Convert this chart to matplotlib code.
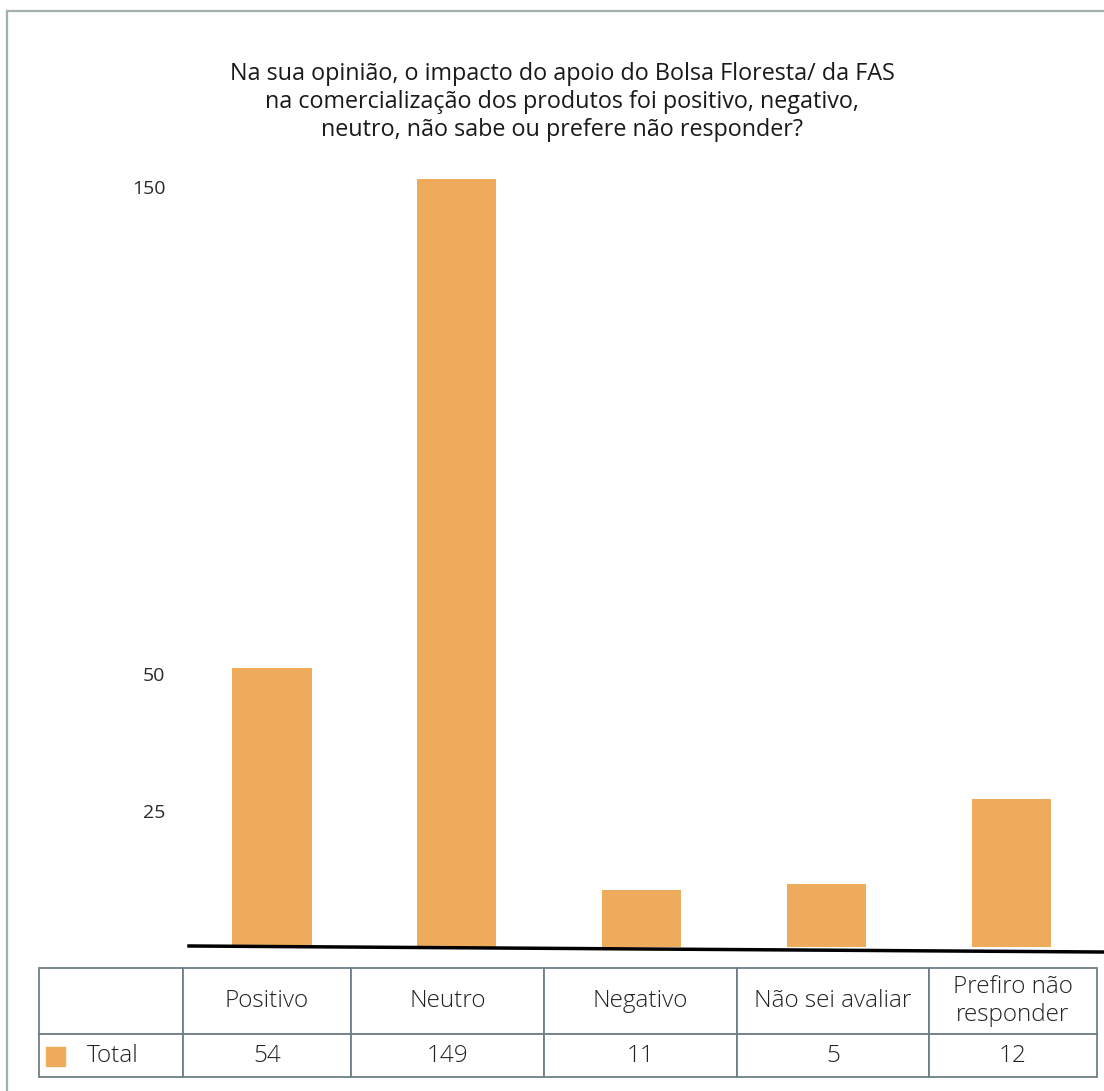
import numpy as np
import matplotlib
matplotlib.use("Agg")
import matplotlib.pyplot as plt
from matplotlib.patches import Rectangle
from matplotlib.lines import Line2D

plt.rcParams['font.family'] = ['Open Sans', 'DejaVu Sans']

# data
categories = ['Positivo', 'Neutro', 'Negativo', 'Não sei avaliar', 'Prefiro não\nresponder']
totals = [54, 149, 11, 5, 12]
# bar heights as drawn in the chart (read against its uneven axis)
bar_heights = [51.2, 151.8, 10.5, 11.6, 27.2]
tick_values = [25, 50, 150]
title = ("Na sua opinião, o impacto do apoio do Bolsa Floresta/ da FAS\n"
         "na comercialização dos produtos foi positivo, negativo,\n"
         "neutro, não sabe ou prefere não responder?")

bar_color = '#EFAB5C'
grid_color = '#6F7F87'

# the source axis is not linear: map values to drawn height piecewise
scale_v = [0, 25, 50, 150, 200]
scale_px = [0, 136, 273, 760, 1003.5]


def fwd(v):
    return np.interp(v, scale_v, scale_px)


def inv(p):
    return np.interp(p, scale_px, scale_v)


W, H = 1104, 1091
fig = plt.figure(figsize=(W / 100, H / 100), dpi=100)

ax = fig.add_axes([189 / W, 1 - 947 / H, 915 / W, 784 / H])
ax.set_yscale('function', functions=(fwd, inv))
x = np.arange(len(categories))
ax.bar(x, bar_heights, width=0.428, color=bar_color, zorder=2)
ax.set_xlim(-0.449, 4.50)
ax.set_ylim(0, 155)
ax.set_yticks(tick_values)
ax.set_yticklabels([str(t) for t in tick_values], fontsize=14, color='#2a2a2a')
ax.tick_params(axis='y', length=0, pad=17)
ax.set_xticks([])
for s in ax.spines.values():
    s.set_visible(False)
# slightly tilted baseline as in the original
ax.plot([0, 1], [0.0013, -0.0064], transform=ax.transAxes, color='black',
        lw=2.5, clip_on=False, zorder=3)

fig.text(562 / W, 1 - 102 / H, title, ha='center', va='center',
         fontsize=16.8, color='#1a1a1a', linespacing=1.2)

# data table
tab_ax = fig.add_axes([39 / W, 1 - 1077 / H, 1058 / W, 109 / H])
tab_ax.axis('off')
col_px = [144, 168, 193, 193, 192, 168]
cells = [[''] + categories, ['Total'] + [str(v) for v in totals]]
tbl = tab_ax.table(cellText=cells, colWidths=[c / sum(col_px) for c in col_px],
                   cellLoc='center', bbox=[0, 0, 1, 1])
tbl.auto_set_font_size(False)
row_h = [66 / 109, 43 / 109]
for (r, c), cell in tbl.get_celld().items():
    cell.set_height(row_h[r])
    cell.set_edgecolor(grid_color)
    cell.set_linewidth(1.3)
    cell.get_text().set_fontsize(17.5)
    cell.get_text().set_color('#222222')
    cell.get_text().set_fontweight('light')
    cell.get_text().set_linespacing(1.2)
tot = tbl[1, 0]
tot.get_text().set_ha('left')
tot.PAD = 0.33

# legend swatch inside the Total cell
fig.patches.append(Rectangle((46 / W, 1 - 1066 / H), 19 / W, 19 / H,
                             transform=fig.transFigure, color=bar_color))

# outer frame (left and top edges visible)
fig.lines.append(Line2D([7 / W, 7 / W], [0, 1 - 11 / H], transform=fig.transFigure,
                        color='#A3B0B0', lw=1.6))
fig.lines.append(Line2D([7 / W, 1], [1 - 11 / H, 1 - 11 / H], transform=fig.transFigure,
                        color='#A3B0B0', lw=1.6))

fig.savefig('out.png', dpi=100, facecolor='white')
